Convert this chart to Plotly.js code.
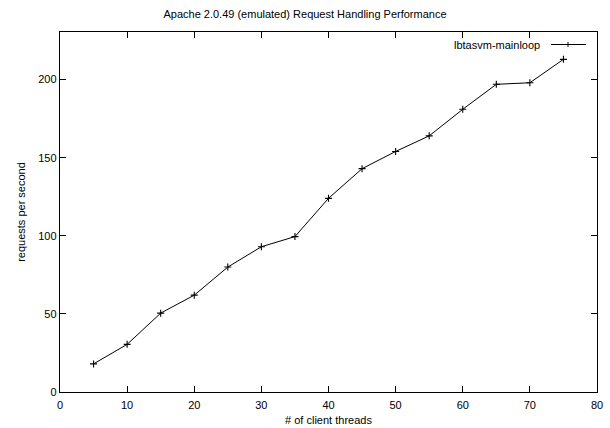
<!DOCTYPE html>
<html>
<head>
<meta charset="utf-8">
<script src="https://cdn.plot.ly/plotly-3.0.1.min.js"></script>
<style>html,body{margin:0;padding:0;background:#fff;}#chart{width:610px;height:428px;}</style>
</head>
<body>
<div id="chart"></div>
<script>
var seriesName = "lbtasvm-mainloop";
var threads = [5, 10, 15, 20, 25, 30, 35, 40, 45, 50, 55, 60, 65, 70, 75];
var requestsPerSecond = [18, 30.5, 50.5, 62, 80, 93, 99.5, 124, 143, 154, 164, 181, 197, 198, 213];
var xTicks = [0, 10, 20, 30, 40, 50, 60, 70, 80];
var yTicks = [0, 50, 100, 150, 200];

var font = {family: "Liberation Sans, Arial, Helvetica, sans-serif", size: 11, color: "#000"};

var trace = {
  x: threads,
  y: requestsPerSecond,
  name: seriesName,
  mode: "lines+markers",
  type: "scatter",
  line: {color: "#000", width: 1},
  marker: {symbol: "cross-thin-open", size: 5, color: "#000", line: {color: "#000", width: 1.1}},
  showlegend: false
};

var axisCommon = {
  showline: true, linecolor: "#000", linewidth: 1.2, mirror: "ticks",
  ticks: "inside", ticklen: 6, tickwidth: 1, tickcolor: "#000",
  showgrid: false, zeroline: false, tickfont: font
};

var layout = {
  width: 610, height: 428,
  margin: {l: 60, r: 13, t: 32, b: 36},
  paper_bgcolor: "#fff", plot_bgcolor: "#fff",
  font: font,
  title: {text: "Apache 2.0.49 (emulated) Request Handling Performance", font: font, x: 0.5, xanchor: "center", y: 0.968, yanchor: "middle"},
  xaxis: Object.assign({}, axisCommon, {
    range: [0, 80], tickmode: "array", tickvals: xTicks, ticktext: xTicks.map(String),
    ticklabelstandoff: 3,
    title: {text: "# of client threads", font: font, standoff: 5}
  }),
  yaxis: Object.assign({}, axisCommon, {
    range: [0, 230.5], tickmode: "array", tickvals: yTicks, ticktext: yTicks.map(String),
    title: {text: "requests per second", font: font, standoff: 10}
  }),
  annotations: [{
    xref: "paper", yref: "paper", x: (542 - 60) / 537, y: 1 - (44.5 - 32) / 360,
    xanchor: "right", yanchor: "middle", showarrow: false,
    text: seriesName, font: font
  }],
  shapes: [
    {type: "line", xref: "paper", yref: "paper", x0: (551 - 60) / 537, x1: (586 - 60) / 537,
     y0: 1 - (44.5 - 32) / 360, y1: 1 - (44.5 - 32) / 360, line: {color: "#000", width: 1}},
    {type: "line", xref: "paper", yref: "paper", x0: (568 - 60) / 537, x1: (568 - 60) / 537,
     y0: 1 - (42 - 32) / 360, y1: 1 - (47 - 32) / 360, line: {color: "#000", width: 1}}
  ],
  showlegend: false
};

Plotly.newPlot("chart", [trace], layout, {displayModeBar: false, staticPlot: true});
</script>
</body>
</html>
